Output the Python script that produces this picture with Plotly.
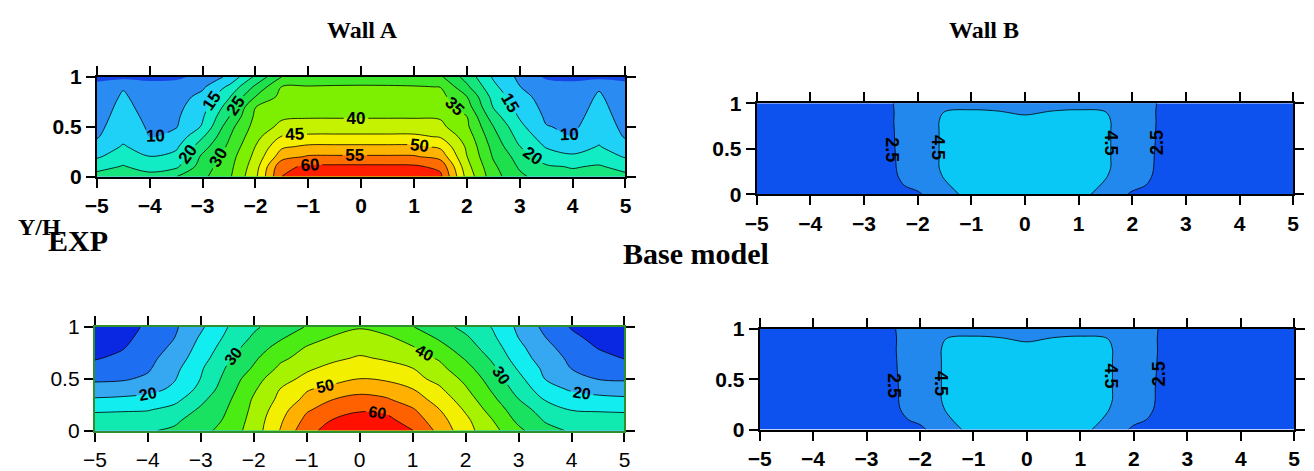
import plotly.graph_objects as go

# ---------------- data ----------------
x_pos = [-5, -4.5, -4, -3.5, -3, -2.5, -2, -1.5, -1, -0.5, 0, 0.5, 1, 1.5, 2, 2.5, 3, 3.5, 4, 4.5, 5]
y_pos = [0, 0.1, 0.2, 0.3, 0.4, 0.5, 0.6, 0.7, 0.8, 0.9, 1.0]
x_ticks = [-5, -4, -3, -2, -1, 0, 1, 2, 3, 4, 5]
y_ticks = [0, 0.5, 1]
y_tick_text = ["0", "0.5", "1"]

# Wall A, top row: one list per x position (values from y=0 to y=1)
wall_a_top_cols = [
    [21.5, 18.5, 14.3, 11.7, 9.6, 9.0, 8.6, 8.2, 7.6, 6.6, 3.5],
    [22.0, 20.3, 17.9, 15.5, 13.5, 12.2, 11.5, 11.0, 10.5, 9.7, 3.6],
    [21.5, 18.2, 15.1, 12.4, 9.9, 9.5, 9.1, 8.6, 8.0, 7.0, 3.6],
    [24.9, 19.0, 16.5, 14.1, 11.7, 9.7, 9.2, 8.6, 8.0, 7.2, 4.0],
    [28.9, 27.5, 26.0, 23.0, 19.5, 15.5, 14.5, 13.1, 11.4, 9.2, 6.5],
    [34.1, 33.4, 32.6, 31.0, 29.6, 28.1, 24.9, 22.3, 19.5, 16.0, 11.0],
    [43.9, 42.8, 41.4, 40.1, 38.4, 36.9, 36.0, 34.9, 30.1, 26.0, 21.0],
    [60.2, 58.8, 52.9, 49.2, 45.3, 41.3, 39.3, 37.9, 36.5, 35.2, 30.1],
    [63.5, 60.8, 55.5, 50.9, 46.0, 42.2, 39.6, 38.2, 36.8, 35.3, 31.8],
    [64.0, 61.0, 55.6, 51.0, 46.0, 42.3, 39.6, 38.2, 36.8, 35.4, 32.6],
    [64.0, 61.0, 55.6, 51.0, 46.0, 42.3, 39.6, 38.2, 36.8, 35.4, 33.0],
    [64.0, 61.0, 55.6, 51.0, 46.0, 42.3, 39.6, 38.2, 36.8, 35.4, 32.7],
    [63.5, 60.8, 55.5, 50.9, 46.0, 42.2, 39.6, 38.2, 36.8, 35.3, 32.0],
    [61.0, 58.8, 53.2, 49.1, 44.6, 41.2, 39.5, 38.1, 36.6, 34.9, 30.8],
    [43.3, 41.7, 40.1, 39.2, 37.7, 35.9, 35.1, 32.2, 30.1, 26.0, 23.0],
    [32.0, 31.0, 29.5, 28.3, 26.8, 25.1, 22.2, 19.7, 18.3, 16.2, 14.4],
    [26.0, 24.3, 22.8, 20.1, 18.1, 16.3, 14.5, 13.1, 11.7, 10.1, 8.9],
    [22.5, 20.6, 17.5, 14.6, 12.5, 10.2, 9.3, 8.6, 8.0, 7.2, 4.2],
    [21.3, 19.7, 15.8, 12.8, 10.05, 9.3, 8.8, 8.3, 7.7, 6.8, 3.6],
    [21.8, 20.4, 17.9, 15.3, 13.5, 12.2, 11.5, 11.0, 10.5, 9.6, 3.6],
    [21.0, 18.6, 14.5, 11.7, 9.6, 9.0, 8.6, 8.2, 7.6, 6.8, 3.5],
]

# Wall A, bottom row: one list per y position (values from x=-5 to x=5)
wall_a_bottom_rows = [
    [29, 29.3, 29.6, 30.7, 33.4, 36.9, 42.3, 50.2, 58.5, 62, 64, 63, 60.2, 53.6, 46.8, 41.7, 36.1, 31.4, 29.5, 29, 28.8],
    [27, 27.3, 28, 29.1, 32.3, 35.7, 41.9, 49.2, 56.4, 60.3, 62, 61.3, 57.8, 51.9, 46.1, 40.2, 33.8, 29.6, 28, 27.3, 27],
    [24.3, 24.5, 24.7, 26.7, 30.8, 35.1, 41.2, 47.9, 54.4, 57.5, 59.5, 59, 55.6, 50.2, 44.4, 38.1, 32.2, 27.9, 24.8, 24.5, 24.3],
    [20.6, 21, 22, 23.5, 28.8, 34, 40.6, 46.2, 51.4, 55, 56.5, 55.6, 52.5, 48, 42.5, 36.2, 30.1, 24.7, 22.5, 21.5, 21],
    [17, 17.4, 18.2, 21, 26.4, 32.8, 39.3, 45.1, 49.5, 51.7, 53.5, 52.5, 50.1, 45.8, 40.6, 34.4, 28.1, 22.2, 19.3, 18, 17.5],
    [14.1, 14.4, 15.8, 19.6, 25.1, 31.7, 37.9, 43.2, 46.2, 48.1, 50.1, 49.3, 46.5, 43.6, 38.8, 32.8, 26.4, 19.9, 16.9, 14.8, 14.4],
    [11.8, 12.5, 14.4, 18.6, 24.4, 30.5, 35.6, 41, 44.3, 46.3, 48, 46.5, 45.1, 41.4, 36.7, 31.1, 24.4, 18.9, 14.9, 13.2, 12],
    [9.6, 11, 13.6, 17.3, 22.8, 29.2, 34.1, 39, 41.8, 44.1, 45.5, 44.5, 42.1, 39.5, 34.5, 29.3, 22.5, 17.5, 14, 11.5, 9.8],
    [8.4, 9.6, 12.3, 16.1, 21.7, 27.5, 32.5, 36.7, 40.4, 42.1, 43.5, 42, 40.4, 36.7, 32.5, 27.5, 21.3, 16.4, 12.8, 9.8, 8.5],
    [7.2, 8.8, 11.4, 14.9, 20.6, 26, 30.7, 34.3, 37.9, 40.4, 41.5, 40.8, 37.9, 34.3, 30.7, 26, 19.9, 15.1, 11.1, 8.5, 7],
    [6, 8.2, 10.7, 14.2, 19.2, 24.9, 29.2, 32.4, 35.3, 37.9, 39.7, 37.8, 35.2, 32, 28.6, 24.8, 19, 13.8, 9.6, 7.8, 6.5],
]

# Wall B, top row: one list per y position
wall_b_top_rows = [
    [1.0, 1.0, 1.0, 1.0, 1.2, 1.6, 2.2, 3.9, 5.0, 5.5, 5.6, 5.5, 5.0, 3.9, 2.2, 1.6, 1.2, 1.0, 1.0, 1.0, 1.0],
    [1.0, 1.0, 1.0, 1.0, 1.3, 2.0, 3.0, 4.3, 5.3, 5.7, 5.8, 5.7, 5.3, 4.3, 3.0, 2.0, 1.3, 1.0, 1.0, 1.0, 1.0],
    [1.0, 1.0, 1.0, 1.0, 1.3, 2.2, 3.3, 4.6, 5.5, 5.8, 5.9, 5.8, 5.5, 4.6, 3.3, 2.2, 1.3, 1.0, 1.0, 1.0, 1.0],
    [1.0, 1.0, 1.0, 1.0, 1.3, 2.3, 3.3, 4.8, 5.5, 5.8, 5.9, 5.8, 5.5, 4.8, 3.3, 2.3, 1.3, 1.0, 1.0, 1.0, 1.0],
    [1.0, 1.0, 1.0, 1.0, 1.3, 2.32, 3.3, 4.8, 5.5, 5.8, 5.9, 5.8, 5.5, 4.8, 3.3, 2.32, 1.3, 1.0, 1.0, 1.0, 1.0],
    [1.0, 1.0, 1.0, 1.0, 1.3, 2.35, 3.3, 4.8, 5.5, 5.8, 5.9, 5.8, 5.5, 4.8, 3.3, 2.35, 1.3, 1.0, 1.0, 1.0, 1.0],
    [1.0, 1.0, 1.0, 1.0, 1.3, 2.37, 3.3, 4.8, 5.5, 5.8, 5.9, 5.8, 5.5, 4.8, 3.3, 2.37, 1.3, 1.0, 1.0, 1.0, 1.0],
    [1.0, 1.0, 1.0, 1.0, 1.3, 2.38, 3.3, 4.8, 5.5, 5.8, 5.9, 5.8, 5.5, 4.8, 3.3, 2.38, 1.3, 1.0, 1.0, 1.0, 1.0],
    [1.0, 1.0, 1.0, 1.0, 1.3, 2.4, 3.3, 4.8, 5.3, 5.2, 5.0, 5.2, 5.3, 4.8, 3.3, 2.4, 1.3, 1.0, 1.0, 1.0, 1.0],
    [1.0, 1.0, 1.0, 1.0, 1.3, 2.4, 3.2, 4.55, 4.7, 4.6, 4.3, 4.6, 4.7, 4.55, 3.2, 2.4, 1.3, 1.0, 1.0, 1.0, 1.0],
    [1.0, 1.0, 1.0, 1.0, 1.3, 2.45, 3.0, 3.8, 4.0, 3.9, 3.6, 3.9, 4.0, 3.8, 3.0, 2.45, 1.3, 1.0, 1.0, 1.0, 1.0],
]

# Wall B, bottom row: one list per y position
wall_b_bottom_rows = [
    [1.0, 1.0, 1.0, 1.0, 1.2, 1.6, 2.1, 3.85, 5.0, 5.5, 5.6, 5.5, 5.0, 3.85, 2.15, 1.6, 1.2, 1.0, 1.0, 1.0, 1.0],
    [1.0, 1.0, 1.0, 1.0, 1.3, 2.0, 2.9, 4.3, 5.3, 5.7, 5.8, 5.7, 5.3, 4.3, 2.95, 2.0, 1.3, 1.0, 1.0, 1.0, 1.0],
    [1.0, 1.0, 1.0, 1.0, 1.3, 2.2, 3.3, 4.6, 5.5, 5.8, 5.9, 5.8, 5.5, 4.6, 3.3, 2.2, 1.3, 1.0, 1.0, 1.0, 1.0],
    [1.0, 1.0, 1.0, 1.0, 1.3, 2.3, 3.3, 4.8, 5.5, 5.8, 5.9, 5.8, 5.5, 4.8, 3.3, 2.3, 1.3, 1.0, 1.0, 1.0, 1.0],
    [1.0, 1.0, 1.0, 1.0, 1.3, 2.3, 3.3, 4.8, 5.5, 5.8, 5.9, 5.8, 5.5, 4.8, 3.3, 2.3, 1.3, 1.0, 1.0, 1.0, 1.0],
    [1.0, 1.0, 1.0, 1.0, 1.3, 2.33, 3.3, 4.8, 5.5, 5.8, 5.9, 5.8, 5.5, 4.8, 3.3, 2.33, 1.3, 1.0, 1.0, 1.0, 1.0],
    [1.0, 1.0, 1.0, 1.0, 1.3, 2.36, 3.3, 4.8, 5.5, 5.8, 5.9, 5.8, 5.5, 4.8, 3.3, 2.36, 1.3, 1.0, 1.0, 1.0, 1.0],
    [1.0, 1.0, 1.0, 1.0, 1.3, 2.38, 3.3, 4.8, 5.5, 5.8, 5.9, 5.8, 5.5, 4.8, 3.3, 2.38, 1.3, 1.0, 1.0, 1.0, 1.0],
    [1.0, 1.0, 1.0, 1.0, 1.3, 2.4, 3.3, 4.8, 5.3, 5.2, 5.0, 5.2, 5.3, 4.8, 3.3, 2.4, 1.3, 1.0, 1.0, 1.0, 1.0],
    [1.0, 1.0, 1.0, 1.0, 1.3, 2.4, 3.2, 4.55, 4.7, 4.6, 4.3, 4.6, 4.7, 4.55, 3.2, 2.4, 1.3, 1.0, 1.0, 1.0, 1.0],
    [1.0, 1.0, 1.0, 1.0, 1.3, 2.45, 3.0, 3.8, 4.0, 3.9, 3.6, 3.9, 4.0, 3.8, 3.0, 2.45, 1.3, 1.0, 1.0, 1.0, 1.0],
]

# contour-label texts for Wall B panels (level value, x, y, angle)
wall_b_top_labels = [("2.5", -2.47, 0.49, 90), ("4.5", -1.62, 0.52, 90), ("4.5", 1.6, 0.56, 90), ("2.5", 2.47, 0.57, -90)]
wall_b_bottom_labels = [("2.5", -2.5, 0.44, 90), ("4.5", -1.62, 0.46, 90), ("4.5", 1.57, 0.53, 90), ("2.5", 2.47, 0.56, -90)]

# band colours (lowest band first)
colors_a_top = ["#1444e6", "#2a8cf2", "#1fd0f7", "#12ecc4", "#16e47c", "#1ee04c", "#3ee828",
                "#7cf000", "#c4f200", "#f4f000", "#ffb400", "#ff6c00", "#ff1e00"]
colors_a_bottom = ["#0a28e2", "#1e6ef2", "#36a8f2", "#12eef0", "#10eab0", "#18e260", "#4aec14",
                   "#a6f200", "#f2f000", "#ffb000", "#ff6000", "#ff1000"]
colors_b = ["#0d52ef", "#2288ee", "#0ac8f5"]

# ---------------- figure ----------------
W, H = 1314, 471
wall_a_top_rows = [list(r) for r in zip(*wall_a_top_cols)]


def xdom(l, r):
    return [l / W, r / W]


def ydom(t, b):
    return [1 - b / H, 1 - t / H]


panels = [
    dict(z=wall_a_top_rows, lv=(5, 60, 5), col=colors_a_top, lab=[(10, 60, 5, True)], txt=[], lsize=17,
         dx=xdom(86, 622), dy=ydom(69, 175), frame="black", bold=True),
    dict(z=wall_b_top_rows, lv=(2.5, 4.5, 2), col=colors_b, lab=[(2.5, 4.5, 2, False)], txt=wall_b_top_labels,
         lsize=18, dx=xdom(755, 1299), dy=ydom(97, 194), frame="black", bold=True),
    dict(z=wall_a_bottom_rows, lv=(10, 60, 5), col=colors_a_bottom,
         lab=[(15, 55, 10, False), (10, 60, 10, True)], txt=[], lsize=16,
         dx=xdom(84, 621), dy=ydom(335, 445), frame="#2f8f2f", bold=False),
    dict(z=wall_b_bottom_rows, lv=(2.5, 4.5, 2), col=colors_b, lab=[(2.5, 4.5, 2, False)], txt=wall_b_bottom_labels,
         lsize=18, dx=xdom(758, 1300), dy=ydom(337, 444), frame="black", bold=True),
]

fig = go.Figure()
layout = {}
annotations = []
for i, p in enumerate(panels, start=1):
    xa, ya = ("x", "y") if i == 1 else (f"x{i}", f"y{i}")
    s, e, sz = p["lv"]
    n = len(p["col"])
    cs = [[k / (n - 1), c] for k, c in enumerate(p["col"])]
    label_font = dict(family="Liberation Sans", size=p["lsize"], color="black", weight="bold")
    fig.add_trace(go.Contour(
        x=x_pos, y=y_pos, z=p["z"], xaxis=xa, yaxis=ya,
        autocontour=False, contours=dict(start=s, end=e, size=sz, coloring="fill", showlines=False),
        colorscale=cs, showscale=False, line=dict(width=0, smoothing=1), hoverinfo="skip"))
    for (ls, le, lsz, show) in p["lab"]:
        fig.add_trace(go.Contour(
            x=x_pos, y=y_pos, z=p["z"], xaxis=xa, yaxis=ya,
            autocontour=False,
            contours=dict(start=ls, end=le, size=lsz, coloring="none", showlabels=show,
                          labelfont=label_font),
            line=dict(color="black", width=0.8, smoothing=1), showscale=False, hoverinfo="skip"))
    for (t, tx, ty, ang) in p["txt"]:
        annotations.append(dict(text=t, x=tx, y=ty, xref=xa, yref=ya, showarrow=False,
                                textangle=ang, font=label_font))
    tf = dict(family="Liberation Sans", size=21, color="black", weight="bold" if p["bold"] else "normal")
    kx = "xaxis" if i == 1 else f"xaxis{i}"
    ky = "yaxis" if i == 1 else f"yaxis{i}"
    layout[kx] = dict(domain=p["dx"], anchor=ya, range=[-5, 5], tickvals=x_ticks,
                      ticks="outside", ticklen=9, tickwidth=2, tickcolor="black",
                      showline=True, linewidth=2, linecolor=p["frame"], mirror="ticks",
                      showgrid=False, zeroline=False, tickfont=tf, fixedrange=True)
    layout[ky] = dict(domain=p["dy"], anchor=xa, range=[0, 1], tickvals=y_ticks, ticktext=y_tick_text,
                      ticks="outside", ticklen=9, tickwidth=2, tickcolor="black",
                      showline=True, linewidth=2, linecolor=p["frame"], mirror="ticks",
                      showgrid=False, zeroline=False, tickfont=tf, fixedrange=True)

serif = "Liberation Serif"
titles = [
    dict(text="<b>Wall A</b>", x=355 / W, y=1 - 19 / H, size=24),
    dict(text="<b>Wall B</b>", x=985 / W, y=1 - 19 / H, size=24),
    dict(text="<b>Y/H</b>", x=28 / W, y=1 - 229 / H, size=24),
    dict(text="<b>EXP</b>", x=67 / W, y=1 - 243 / H, size=30),
    dict(text="<b>Base model</b>", x=694 / W, y=1 - 257 / H, size=30),
]
for a in titles:
    annotations.append(dict(text=a["text"], x=a["x"], y=a["y"], xref="paper", yref="paper",
                            xanchor="center", yanchor="middle", showarrow=False,
                            font=dict(family=serif, size=a["size"], color="black")))

fig.update_layout(width=W, height=H, margin=dict(l=0, r=0, t=0, b=0),
                  paper_bgcolor="white", plot_bgcolor="white", showlegend=False,
                  annotations=annotations, **layout)
fig.write_html("out.html")
